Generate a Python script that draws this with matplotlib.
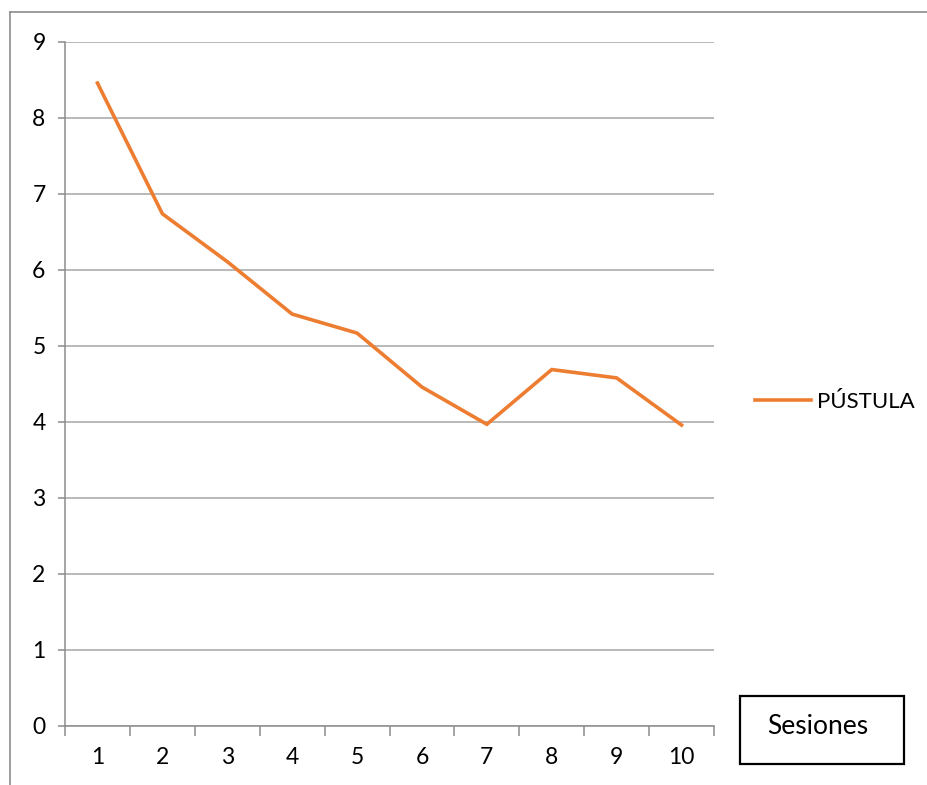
import matplotlib
matplotlib.use("Agg")
import matplotlib.pyplot as plt
from matplotlib.lines import Line2D
from matplotlib.patches import Rectangle

plt.rcParams['font.family'] = ['Lato', 'DejaVu Sans']

sessions = ['1', '2', '3', '4', '5', '6', '7', '8', '9', '10']
pustula = [8.46, 6.74, 6.11, 5.42, 5.17, 4.46, 3.97, 4.69, 4.58, 3.96]
series_name = 'PÚSTULA'
box_label = 'Sesiones'
y_ticks = [0, 1, 2, 3, 4, 5, 6, 7, 8, 9]

W, H = 927, 785
fig = plt.figure(figsize=(W / 100, H / 100), dpi=100)
ax = fig.add_axes([65 / W, (H - 726) / H, 649 / W, 684 / H])

grid_c = '#A6A6A6'
axis_c = '#8C8C8C'
orange = '#ED7D31'

x = list(range(len(sessions)))
ax.plot(x, pustula, color=orange, lw=2.6, solid_joinstyle='miter', label=series_name, zorder=3)

ax.set_xlim(-0.5, len(sessions) - 0.5)
ax.set_ylim(0, 9)
ax.set_yticks(y_ticks)
ax.set_yticklabels([str(v) for v in y_ticks])
ax.yaxis.grid(True, color=grid_c, lw=1.1)
ax.set_axisbelow(True)

ax.set_xticks(x)
ax.set_xticklabels(sessions)
ax.set_xticks([i - 0.5 for i in range(len(sessions) + 1)], minor=True)
ax.tick_params(axis='x', which='major', length=0, pad=15, labelsize=16.5, colors='black')
ax.tick_params(axis='x', which='minor', length=7, width=1.1, color=axis_c)
ax.tick_params(axis='y', length=5, width=1.1, color=axis_c, pad=9, labelsize=16.5)

for s in ['top', 'right']:
    ax.spines[s].set_visible(False)
for s in ['left', 'bottom']:
    ax.spines[s].set_color(axis_c)
    ax.spines[s].set_linewidth(1.1)

fig.legend(loc='center left', bbox_to_anchor=(755 / W, (H - 402) / H),
           frameon=False, fontsize=16, handlelength=2.5, handletextpad=0.3,
           borderpad=0, borderaxespad=0)

# outer chart border (top and left visible)
fig.add_artist(Line2D([10 / W, 1.0], [(H - 12) / H, (H - 12) / H], color='#8C8C8C', lw=1.2))
fig.add_artist(Line2D([10 / W, 10 / W], [(H - 12) / H, 0], color='#8C8C8C', lw=1.2))

# Sesiones box
fig.add_artist(Rectangle((740 / W, (H - 764) / H), 164 / W, 68 / H,
                         transform=fig.transFigure, fill=False, edgecolor='black', lw=1.6))
fig.text(818 / W, (H - 727) / H, box_label, ha='center', va='center', fontsize=19)

fig.savefig('out.png', dpi=100)
